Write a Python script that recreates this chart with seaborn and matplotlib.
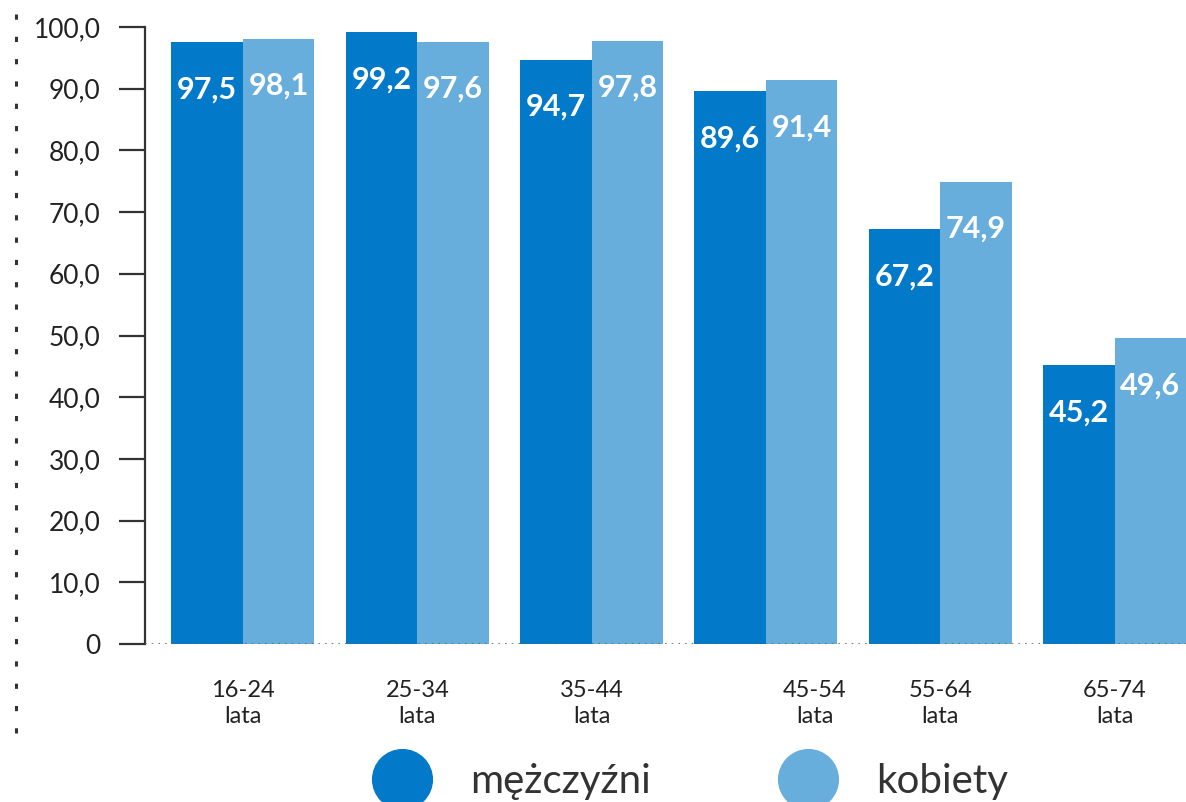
import matplotlib
matplotlib.use("Agg")
import matplotlib.pyplot as plt
import matplotlib.transforms as mtransforms
from matplotlib.lines import Line2D
import seaborn as sns
import pandas as pd

# ---- data ----
categories = ["16-24\nlata", "25-34\nlata", "35-44\nlata", "45-54\nlata", "55-64\nlata", "65-74\nlata"]
series_names = ["mężczyźni", "kobiety"]
men = [97.5, 99.2, 94.7, 89.6, 67.2, 45.2]
women = [98.1, 97.6, 97.8, 91.4, 74.9, 49.6]
yticks = [0, 10, 20, 30, 40, 50, 60, 70, 80, 90, 100]
ytick_labels = ["0", "10,0", "20,0", "30,0", "40,0", "50,0", "60,0", "70,0", "80,0", "90,0", "100,0"]
colors = ["#0379c9", "#68aedd"]

df = pd.DataFrame({
    "kat": categories * 2,
    "plec": [series_names[0]] * len(categories) + [series_names[1]] * len(categories),
    "val": men + women,
})

sns.set_theme(style="white")
plt.rcParams["font.family"] = ["Lato", "DejaVu Sans"]

W, H = 1186, 802
fig = plt.figure(figsize=(W / 100, H / 100), dpi=100)
ax = fig.add_axes([145 / W, 1 - 644 / H, 1 - 145 / W, (644 - 27) / H])

sns.barplot(data=df, x="kat", y="val", hue="plec", order=categories,
            hue_order=series_names, palette=colors, width=0.82, saturation=1,
            ax=ax, legend=False, zorder=2, linewidth=0, edgecolor="none")

ax.set_xlim(-0.562, 5.41)
ax.set_ylim(0, 100)
ax.set_xlabel("")
ax.set_ylabel("")
ax.set_yticks(yticks)
ax.set_yticklabels(ytick_labels, fontsize=19, color="#222222")
ax.tick_params(axis="y", left=True, direction="out", length=19, width=1.6,
               color="#333333", pad=13)
ax.tick_params(axis="x", bottom=False, length=0, pad=26, labelsize=17, labelcolor="#222222")
for lab in ax.get_xticklabels():
    lab.set_linespacing(1.3)

# shift the 45-54 label as in the reference
lbl = ax.get_xticklabels()[3]
lbl.set_transform(lbl.get_transform() + mtransforms.ScaledTranslation(0.49, 0, fig.dpi_scale_trans))

for s in ["top", "right", "bottom"]:
    ax.spines[s].set_visible(False)
ax.spines["left"].set_color("#333333")
ax.spines["left"].set_linewidth(1.6)

ax.axhline(0, color="#666666", linestyle=(0, (1, 3)), linewidth=1.2, zorder=3)

# data labels
for cont in ax.containers:
    for bar in cont:
        h = bar.get_height()
        ax.annotate(f"{h:.1f}".replace(".", ","),
                    (bar.get_x() + bar.get_width() / 2, h),
                    xytext=(0, -34), textcoords="offset points",
                    ha="center", va="center", color="white",
                    fontsize=22, fontweight="bold", zorder=4)

# decorative dashed line on the left
fig.add_artist(Line2D([16 / W, 16 / W], [1 - 14 / H, 1 - 738 / H],
                      transform=fig.transFigure, color="#333333",
                      linewidth=2.2, linestyle=(0, (1.7, 5.6))))

# legend
handles = [Line2D([], [], marker="o", linestyle="", markersize=43,
                  markerfacecolor=c, markeredgecolor=c) for c in colors]
fig.legend(handles, series_names, loc="center", bbox_to_anchor=(695 / W, 1 - 782 / H),
           ncol=2, frameon=False, fontsize=29, handlelength=1.0,
           handletextpad=1.2, columnspacing=3.4, labelcolor="#333333",
           borderpad=0, borderaxespad=0)

fig.savefig("out.png", dpi=100)
